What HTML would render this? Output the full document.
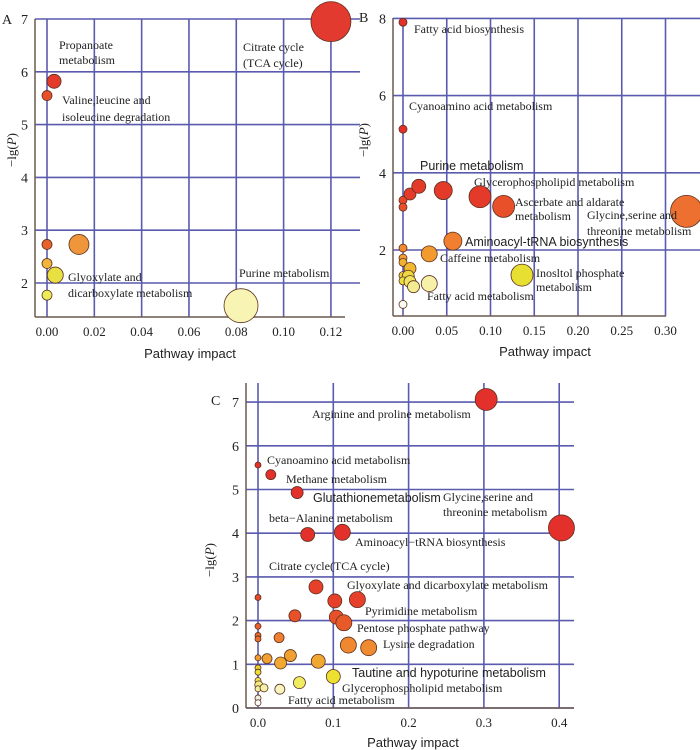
<!DOCTYPE html>
<html><head><meta charset="utf-8"><style>
html,body{margin:0;padding:0;background:#fff;}
svg{display:block;}
text{font-family:"Liberation Serif",serif;fill:#222;}
.s{font-family:"Liberation Sans",sans-serif;}
</style></head><body>
<svg id="chart" width="700" height="750" viewBox="0 0 700 750"></svg>
<script>
// Panel A data
const aX=[0.12,0.003,0,0,0.0135,0,0.0035,0,0.082];
const aY=[6.95,5.82,5.55,2.73,2.73,2.37,2.15,1.77,1.57];
const aSize=[20,7,5,5,10,5,8,5,17];
const aColor=["#e23a2e","#e33a2a","#e8502a","#e8602a","#f0963a","#f0b43a","#e8e040","#ecec58","#f8f5b4"];
const aXTicks=[0,0.02,0.04,0.06,0.08,0.10,0.12];
const aXTickLabels=["0.00","0.02","0.04","0.06","0.08","0.10","0.12"];
const aYTicks=[2,3,4,5,6,7];
// Panel B data
const bX=[0,0,0,0,0.008,0.018,0.046,0.088,0.115,0.324,0.057,0.030,0,0,0,0.008,0,0.006,0,0.008,0.012,0.030,0.136,0];
const bY=[7.9,5.13,3.29,3.11,3.45,3.65,3.54,3.38,3.13,3.0,2.23,1.9,2.05,1.79,1.68,1.52,1.34,1.32,1.2,1.18,1.05,1.13,1.35,0.59];
const bSize=[4,4,4,4,6,7,9,11,11,16,9,8,4,4,4,6,4,6,4,6,6,8,11,4];
const bColor=["#e3302a","#e3302a","#e8482a","#e8502a","#e33a2a","#e33a2a","#e33a2a","#e33a2a","#e8502a","#ee7030","#f08030","#f09a30","#f08a30","#f0a030","#f0b030","#f0b830","#ecd040","#ecd840","#ece040","#f0e460","#f4ec90","#f6f0a8","#e8e030","#fbfbf0"];
const bXTicks=[0,0.05,0.10,0.15,0.20,0.25,0.30];
const bXTickLabels=["0.00","0.05","0.10","0.15","0.20","0.25","0.30"];
const bYTicks=[2,4,6,8];
// Panel C data
const cX=[0.303,0.403,0,0.017,0.052,0.066,0.112,0.077,0.102,0.132,0,0.049,0.104,0.114,0,0,0,0.028,0.12,0.147,0,0.012,0.043,0.030,0.08,0,0,0.1,0.055,0,0.001,0,0.008,0.029,0,0];
const cY=[7.06,4.12,5.56,5.34,4.93,3.97,4.02,2.77,2.45,2.48,2.53,2.11,2.08,1.95,1.87,1.66,1.58,1.61,1.44,1.38,1.15,1.13,1.2,1.03,1.07,0.92,0.82,0.72,0.58,0.63,0.53,0.44,0.46,0.43,0.23,0.12];
const cSize=[11,13,3,5,6,7,8,7,7,8,3,6,7,8,3,3,3,5,8,8,3,5,6,6,7,3,3,7,6,3,4,3,4,5,3,3];
const cColor=["#e3302a","#e3302a","#e3302a","#e3302a","#e3302a","#e3302a","#e3302a","#e6402a","#e6402a","#e6402a","#e8482a","#e8502a","#e8502a","#e85a2a","#e8602a","#ec6a2a","#ec702a","#f08030","#f08830","#f08a30","#f09a30","#f0a030","#f0a030","#f0a830","#f0a830","#ecd030","#ece030","#ece030","#f0ec60","#f0e858","#f2ec80","#f4f0a0","#f4f0a8","#f8f4c0","#f0f0e0","#fbfbf8"];
const cXTicks=[0,0.1,0.2,0.3,0.4];
const cXTickLabels=["0.0","0.1","0.2","0.3","0.4"];
const cYTicks=[0,1,2,3,4,5,6,7];

const NS="http://www.w3.org/2000/svg";
const svg=document.getElementById("chart");
function mk(tag,attrs,parent){const e=document.createElementNS(NS,tag);for(const k in attrs)e.setAttribute(k,attrs[k]);(parent||svg).appendChild(e);return e;}
function txt(s,x,y,attrs,parent){const e=mk("text",Object.assign({x:x,y:y,"font-size":12},attrs||{}),parent);e.textContent=s;return e;}

function panel(p){
  const g=mk("g",{});
  
  
  const sx=v=>p.x0+(v-p.xv0)*p.kx;
  const sy=v=>p.y0-(v-p.yv0)*p.ky;
  p.yTicks.forEach(v=>{const l=mk("line",{x1:p.axisX,x2:p.gridR,y1:sy(v),y2:sy(v),stroke:"#5a5aae","stroke-width":1.6},g);
    
    const t=txt(String(v),p.axisX-7,sy(v)+5,{"text-anchor":"end","font-size":14},g);
    });
  p.xTicks.forEach((v,i)=>{const l=mk("line",{x1:sx(v),x2:sx(v),y1:p.gridT,y2:p.axisY,stroke:"#5a5aae","stroke-width":1.6},g);
    
    const t=txt(p.xLabels[i],sx(v),p.axisY+19,{"text-anchor":"middle","font-size":13},g);
    });
  const ya=mk("line",{x1:p.axisX,x2:p.axisX,y1:p.gridT,y2:p.axisY,stroke:"#6b5a50","stroke-width":1.5},g);
  
  const xa=mk("line",{x1:p.axisX,x2:p.axisR,y1:p.axisY,y2:p.axisY,stroke:"#6b5a50","stroke-width":1.5},g);
  
  p.xs.forEach((v,i)=>{const c=mk("circle",{cx:sx(v),cy:sy(p.ys[i]),r:p.size[i],fill:p.color[i],stroke:"#5a3020","stroke-width":0.8},g);
    });
  const xt=txt("Pathway impact",p.xtX,p.xtY,{"text-anchor":"middle","font-size":13,"class":"s"},g);
  
  const yt=mk("text",{x:0,y:0,"font-size":13,"text-anchor":"middle",transform:"translate("+p.ytX+","+p.ytY+") rotate(-90)"},g);
  yt.innerHTML='\u2212lg(<tspan font-style="italic">P</tspan>)';
  
  const pl=txt(p.id,p.lx,p.ly,{"font-size":14},g);
  
  p.labels.forEach(L=>{const t=txt(L[0],L[1],L[2],L[3]?{"class":"s","font-size":12.5}:{},g);
    });
}

panel({id:"A",xs:aX,ys:aY,size:aSize,color:aColor,xTicks:aXTicks,xLabels:aXTickLabels,yTicks:aYTicks,
  x0:47,xv0:0,kx:2366,y0:283,yv0:2,ky:52.8,axisX:35,axisY:317,axisR:345,gridR:360,gridT:19,
  xtX:190,xtY:358,ytX:16,ytY:150,lx:2,ly:24,
  labels:[["Propanoate",59,49],["metabolism",59,64],["Citrate cycle",243,51],["(TCA cycle)",243,67],
  ["Valine,leucine and",62,104],["isoleucine degradation",62,121],["Glyoxylate and",68,281],["dicarboxylate metabolism",68,297],["Purine metabolism",239,277]]});

panel({id:"B",xs:bX,ys:bY,size:bSize,color:bColor,xTicks:bXTicks,xLabels:bXTickLabels,yTicks:bYTicks,
  x0:403,xv0:0,kx:875,y0:250,yv0:2,ky:38.6,axisX:393,axisY:316,axisR:666,gridR:700,gridT:18,
  xtX:545,xtY:356,ytX:368,ytY:140,lx:359,ly:22,
  labels:[["Fatty acid biosynthesis",414,33],["Cyanoamino acid metabolism",409,110],["Purine metabolism",420,170,1],
  ["Glycerophospholipid metabolism",474,186],["Ascerbate and aldarate",515,206],["metabolism",515,220],
  ["Glycine,serine and",587,219],["threonine metabolism",587,235],["Aminoacyl-tRNA biosynthesis",465,246,1],
  ["Caffeine metabolism",440,262],["Inosltol phosphate",536,277],["metabolism",536,291],["Fatty acid metabolism",427,300]]});

panel({id:"C",xs:cX,ys:cY,size:cSize,color:cColor,xTicks:cXTicks,xLabels:cXTickLabels,yTicks:cYTicks,
  x0:258,xv0:0,kx:753,y0:708,yv0:0,ky:43.7,axisX:246,axisY:708,axisR:574,gridR:574,gridT:383,
  xtX:413,xtY:747,ytX:214,ytY:560,lx:211,ly:405,
  labels:[["Arginine and proline metabolism",312,418],["Cyanoamino acid metabolism",267,464],["Methane metabolism",286,483],
  ["Glutathionemetabolism",313,502,1],["Glycine,serine and",443,501],["threonine metabolism",443,516],
  ["beta\u2212Alanine metabolism",269,522],["Aminoacyl\u2212tRNA biosynthesis",355,546],["Citrate cycle(TCA cycle)",269,570],
  ["Glyoxylate and dicarboxylate metabolism",347,589],["Pyrimidine metabolism",365,615],["Pentose phosphate pathway",357,632],
  ["Lysine degradation",383,648],["Tautine and hypoturine metabolism",352,677,1],["Glycerophospholipid metabolism",342,692],
  ["Fatty acid metabolism",288,704]]});
</script>
</body></html>
